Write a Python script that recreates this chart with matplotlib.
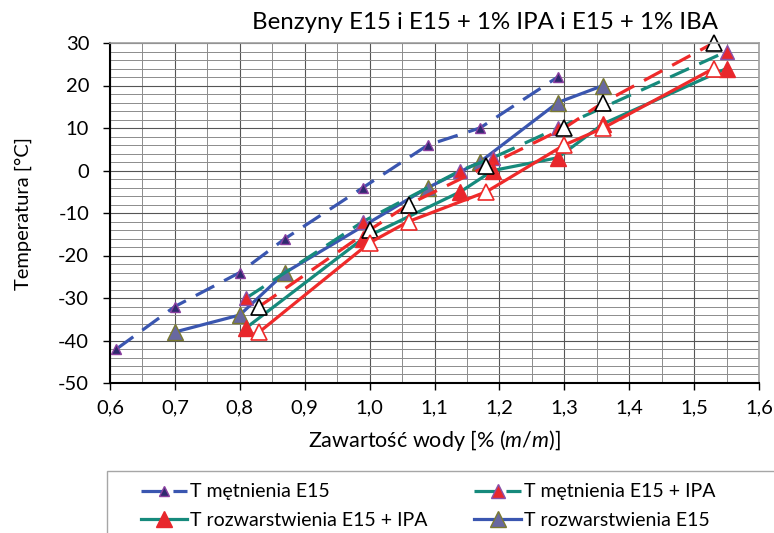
import matplotlib
matplotlib.use('Agg')
from matplotlib import pyplot
from matplotlib.patches import Rectangle
from matplotlib.ticker import MultipleLocator, FormatStrFormatter

pyplot.rcParams['font.family'] = ['Lato', 'DejaVu Sans']
pyplot.rcParams['mathtext.fontset'] = 'custom'
pyplot.rcParams['mathtext.rm'] = 'Lato'
pyplot.rcParams['mathtext.it'] = 'Lato:italic'

# water content [% m/m] and temperature [C] per series
x_met_e15 = [0.61, 0.70, 0.80, 0.87, 0.99, 1.09, 1.17, 1.29]
y_met_e15 = [-42, -32, -24, -16, -4, 6, 10, 22]
x_roz_e15 = [0.70, 0.80, 0.87, 1.09, 1.17, 1.29, 1.36]
y_roz_e15 = [-38, -34, -24, -4, 2, 16, 20]
x_met_ipa = [0.81, 0.99, 1.14, 1.19, 1.29, 1.55]
y_met_ipa = [-30, -12, 0, 3, 10, 28]
x_roz_ipa = [0.81, 0.99, 1.14, 1.19, 1.29, 1.36, 1.55]
y_roz_ipa = [-37, -16, -5, 0, 3, 11, 24]
x_met_iba = [0.83, 1.00, 1.06, 1.18, 1.30, 1.36, 1.53]
y_met_iba = [-32, -14, -8, 1, 10, 16, 30]
x_roz_iba = [0.83, 1.00, 1.06, 1.18, 1.30, 1.36, 1.53]
y_roz_iba = [-38, -17, -12, -5, 6, 10, 24]

blue = '#3A56B0'
teal = '#168a7c'
red = '#EF2A2A'
dash = (6.5, 3.5)

fig = pyplot.figure(figsize=(7.74, 5.33), dpi=100)
ax = fig.add_axes([110 / 774, 150 / 533, 649 / 774, 340 / 533])

l1, = ax.plot(x_met_e15, y_met_e15, color=blue, lw=2.3, dashes=dash,
              marker='^', ms=7, mfc='#2E2A6E', mec='#8a3fa0', mew=1,
              label='T mętnienia E15', clip_on=False)
l2, = ax.plot(x_roz_e15, y_roz_e15, color=blue, lw=2.3,
              marker='^', ms=11, mfc='#6868a0', mec='#7a7a30', mew=1,
              label='T rozwarstwienia E15', clip_on=False)
l3, = ax.plot(x_met_ipa, y_met_ipa, color=teal, lw=2.3, dashes=dash,
              marker='^', ms=10, mfc='#E8272C', mec='#8a50a8', mew=1,
              label='T mętnienia E15 + IPA', clip_on=False)
l4, = ax.plot(x_roz_ipa, y_roz_ipa, color=teal, lw=2.3,
              marker='^', ms=11, mfc='#E8272C', mec='#E8272C', mew=1,
              label='T rozwarstwienia E15 + IPA', clip_on=False)
l5, = ax.plot(x_met_iba, y_met_iba, color=red, lw=2.3, dashes=dash,
              marker='^', ms=11, mfc='white', mec='black', mew=1.2,
              label='T mętnienia E15 + IBA', clip_on=False)
l6, = ax.plot(x_roz_iba, y_roz_iba, color=red, lw=2.3,
              marker='^', ms=11, mfc='white', mec=red, mew=1.2,
              label='T rozwarstwienia E15 + IBA', clip_on=False)

ax.set_xlim(0.6, 1.6)
ax.set_ylim(-50, 30)
ax.xaxis.set_major_locator(MultipleLocator(0.1))
ax.xaxis.set_minor_locator(MultipleLocator(0.05))
ax.yaxis.set_major_locator(MultipleLocator(10))
ax.yaxis.set_minor_locator(MultipleLocator(2))
ax.xaxis.set_major_formatter(lambda v, p: ('%.1f' % v).replace('.', ','))
ax.yaxis.set_major_formatter(FormatStrFormatter('%d'))
ax.grid(which='major', color='#555555', lw=0.8)
ax.grid(which='minor', color='#8c8c8c', lw=0.7)
ax.set_axisbelow(True)
ax.tick_params(which='major', direction='out', length=5, width=1, labelsize=14.5,
               colors='black')
ax.tick_params(axis='y', pad=10)
ax.tick_params(axis='x', pad=7)
ax.tick_params(which='minor', length=0)
for s in ['top', 'right']:
    ax.spines[s].set_color('#a0a0a0')
    ax.spines[s].set_linewidth(1.2)
for s in ['left', 'bottom']:
    ax.spines[s].set_color('black')
    ax.spines[s].set_linewidth(1.5)

ax.set_xlabel('Zawartość wody [% ($\\mathit{m}$/$\\mathit{m}$)]', fontsize=15.5, labelpad=8)
ax.set_ylabel('Temperatura [°C]', fontsize=14.5, labelpad=19)
fig.text(485 / 774, 1 - 22 / 533, 'Benzyny E15 i E15 + 1% IPA i E15 + 1% IBA',
         fontsize=17.3, ha='center', va='center')

# legend box runs off the figure edge like the original (only two rows visible)
fig.patches.append(Rectangle((107 / 774, -0.05), 0.9, 0.05 + 62 / 533,
                             transform=fig.transFigure, fill=False,
                             edgecolor='#a6a6a6', lw=1))
handles = [l1, l4, l3, l2]
fig.legend(handles=handles, labels=[h.get_label() for h in handles],
           loc='upper left', bbox_to_anchor=(123 / 774, 1 - 466 / 533),
           ncol=2, frameon=False, fontsize=14, handlelength=2.4,
           handletextpad=0.15, columnspacing=2.4, labelspacing=0.6)

fig.savefig('out.png', dpi=100)
